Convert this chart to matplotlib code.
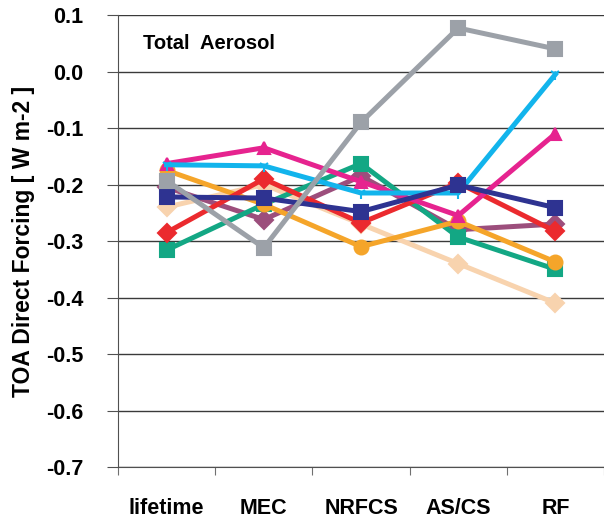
import numpy as np
import matplotlib.pyplot as plt

plt.rcParams['font.family'] = ['Liberation Sans', 'DejaVu Sans']

categories = ['lifetime', 'MEC', 'NRFCS', 'AS/CS', 'RF']
ytick_vals = [-0.7, -0.6, -0.5, -0.4, -0.3, -0.2, -0.1, 0.0, 0.1]
ytick_labels = ['-0.7', '-0.6', '-0.5', '-0.4', '-0.3', '-0.2', '-0.1', '0.0', '0.1']

# forcing per model experiment [W m-2]
peach   = [-0.240, -0.200, -0.270, -0.340, -0.410]
purple  = [-0.205, -0.262, -0.185, -0.280, -0.270]
green   = [-0.316, -0.235, -0.163, -0.293, -0.350]
orange  = [-0.175, -0.235, -0.310, -0.265, -0.337]
red     = [-0.285, -0.190, -0.268, -0.197, -0.283]
magenta = [-0.163, -0.135, -0.195, -0.255, -0.110]
cyan    = [-0.165, -0.167, -0.215, -0.215, -0.005]
navy    = [-0.222, -0.224, -0.248, -0.201, -0.241]
gray    = [-0.193, -0.312, -0.090, 0.077, 0.040]

series = [
    (peach,   '#F8D3AE', 'D', 9),
    (purple,  '#9C4E7C', 'D', 9),
    (green,   '#13A784', 's', 10),
    (orange,  '#F5A52A', 'o', 10),
    (red,     '#EB2A2E', 'D', 9),
    (magenta, '#E6238F', '^', 8),
    (cyan,    '#12B4EC', '1', 8),
    (navy,    '#2E3391', 's', 10),
    (gray,    '#9CA1A8', 's', 10),
]

fig = plt.figure(figsize=(6.04, 5.21), dpi=100)
ax = fig.add_axes([0.1954, 0.1036, 0.8046, 0.8676])

x = np.arange(len(categories)) + 0.5
for vals, col, mk, ms in series:
    ax.plot(x, vals, color=col, lw=3.6, marker=mk, ms=ms,
            markeredgecolor=col, mew=1.5, clip_on=False)

ax.set_xlim(0, len(categories))
ax.set_ylim(-0.7, 0.1)
ax.set_yticks(ytick_vals)
ax.set_yticklabels(ytick_labels, fontsize=15.5, fontweight='bold')
ax.yaxis.grid(True, color='#3a3a3a', lw=1.0)
ax.set_axisbelow(True)

# category boundaries get the tick marks, labels sit between them
ax.set_xticks(np.arange(len(categories) + 1))
ax.set_xticklabels([])
ax.set_xticks(x, minor=True)
ax.set_xticklabels(categories, minor=True, fontsize=15.5, fontweight='bold')
ax.tick_params(axis='x', which='minor', length=0, pad=22)
ax.tick_params(axis='x', which='major', length=6, color='#707070')
ax.tick_params(axis='y', length=8, color='#505050', pad=17)

for s in ['top', 'right']:
    ax.spines[s].set_visible(False)
ax.spines['left'].set_color('#505050')
ax.spines['bottom'].set_color('#505050')

ax.set_ylabel('TOA Direct Forcing [ W m-2 ]', fontsize=16.5, fontweight='bold',
              labelpad=8)
ax.text(0.052, 0.958, 'Total  Aerosol', transform=ax.transAxes,
        fontsize=14.5, fontweight='bold', va='top')

fig.savefig('out.png', dpi=100)
